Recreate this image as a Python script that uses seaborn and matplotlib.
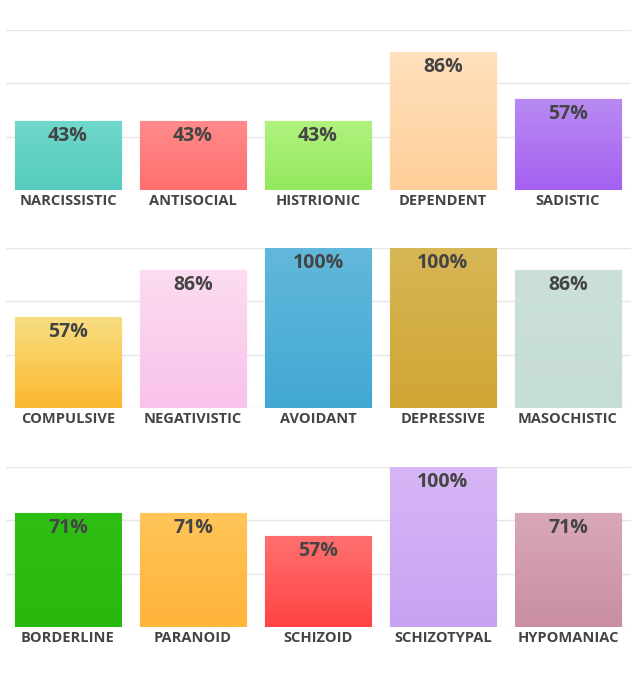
import numpy as np
import pandas as pd
import matplotlib
matplotlib.use('Agg')
import matplotlib.pyplot as plt
import matplotlib.colors as mcolors
import seaborn as sns

row1_names = ['NARCISSISTIC', 'ANTISOCIAL', 'HISTRIONIC', 'DEPENDENT', 'SADISTIC']
row1_vals = [43, 43, 43, 86, 57]
row1_top = ['#6fd8cc', '#ff8a8a', '#b0f27e', '#ffe0bd', '#b88af2']
row1_bot = ['#55cbbd', '#ff6f6f', '#93e85e', '#ffcf99', '#a661f0']

row2_names = ['COMPULSIVE', 'NEGATIVISTIC', 'AVOIDANT', 'DEPRESSIVE', 'MASOCHISTIC']
row2_vals = [57, 86, 100, 100, 86]
row2_top = ['#f8de82', '#fcdcf0', '#62b8da', '#d7b655', '#cae0d8']
row2_bot = ['#fbb82e', '#f9c2ea', '#42a8d3', '#d0a635', '#c6ddd5']

row3_names = ['BORDERLINE', 'PARANOID', 'SCHIZOID', 'SCHIZOTYPAL', 'HYPOMANIAC']
row3_vals = [71, 71, 57, 100, 71]
row3_top = ['#2fbf14', '#ffc458', '#ff7070', '#d6b6f6', '#d9a8b8']
row3_bot = ['#28b80e', '#ffb43a', '#ff4444', '#c9a2f2', '#c98ea2']

sns.set_theme(style='white')
plt.rcParams['font.family'] = ['Open Sans', 'DejaVu Sans']

fig = plt.figure(figsize=(6.35, 6.9), dpi=100)
rows = [(row1_names, row1_vals, row1_top, row1_bot, 0.7246),
        (row2_names, row2_vals, row2_top, row2_bot, 0.4087),
        (row3_names, row3_vals, row3_top, row3_bot, 0.0913)]

for names, vals, tops, bots, y0 in rows:
    ax = fig.add_axes([5.5 / 635, y0, 625 / 635, 160 / 690])
    df = pd.DataFrame({'name': names, 'val': vals})
    sns.barplot(data=df, x='name', y='val', hue='name', palette=bots,
                width=0.85, legend=False, ax=ax, saturation=1)
    for g in [0, 100 / 3, 200 / 3, 100]:
        ax.axhline(g, color='#e6e6e6', lw=1, zorder=0)
    for p, t, b, v in zip(ax.patches, tops, bots, vals):
        x0, w, h = p.get_x(), p.get_width(), p.get_height()
        p.set_edgecolor(mcolors.to_hex(np.array(mcolors.to_rgb(b)) * 0.9))
        p.set_linewidth(0.8)
        cmap = mcolors.LinearSegmentedColormap.from_list('g', [b, t])
        im = ax.imshow(np.linspace(0, 1, 50).reshape(-1, 1), cmap=cmap,
                       extent=[x0, x0 + w, 0, h], origin='lower', aspect='auto', zorder=2)
        im.set_clip_path(p)
        ax.text(x0 + w / 2, h - 3, f'{v}%', ha='center', va='top',
                fontsize=14, fontweight='bold', color='#444444', zorder=3)
    ax.set_xlim(-0.5, 4.5)
    ax.set_ylim(0, 100)
    ax.set_xlabel('')
    ax.set_ylabel('')
    ax.set_yticks([])
    ax.tick_params(axis='x', length=0, pad=3)
    for lab in ax.get_xticklabels():
        lab.set_fontweight('bold')
        lab.set_fontsize(10.5)
        lab.set_color('#444444')
    for s in ax.spines.values():
        s.set_visible(False)

fig.savefig('out.png', dpi=100)
